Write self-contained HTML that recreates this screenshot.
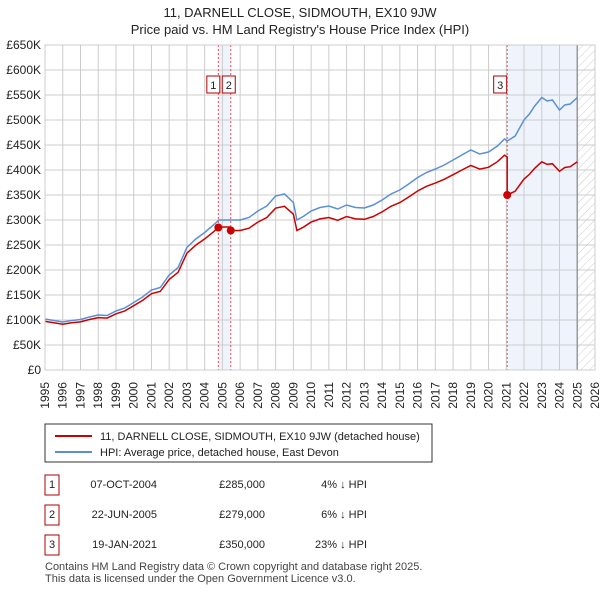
<!DOCTYPE html>
<html><head><meta charset="utf-8"><style>
body{margin:0;background:#fff;font-family:"Liberation Sans",sans-serif;}
svg text{font-family:"Liberation Sans",sans-serif;}
</style></head><body>
<svg id="c" width="600" height="590" xmlns="http://www.w3.org/2000/svg">
<text x="300" y="17" text-anchor="middle" font-size="13" fill="#222">11, DARNELL CLOSE, SIDMOUTH, EX10 9JW</text>
<text x="300" y="34" text-anchor="middle" font-size="13" fill="#222">Price paid vs. HM Land Registry's House Price Index (HPI)</text>
<g id="plot"></g>
<rect x="45" y="424" width="387" height="38" fill="#fff" stroke="#333"/>
<line x1="55" y1="436" x2="92" y2="436" stroke="#cc0000" stroke-width="2"/>
<text x="100" y="440" font-size="11" fill="#222">11, DARNELL CLOSE, SIDMOUTH, EX10 9JW (detached house)</text>
<line x1="55" y1="452" x2="92" y2="452" stroke="#5b8fd4" stroke-width="2"/>
<text x="100" y="456" font-size="11" fill="#222">HPI: Average price, detached house, East Devon</text>
<g id="tbl" font-size="11" fill="#222"></g>
<text x="45" y="570" font-size="11" fill="#444">Contains HM Land Registry data © Crown copyright and database right 2025.</text>
<text x="45" y="582" font-size="11" fill="#444">This data is licensed under the Open Government Licence v3.0.</text>
</svg>
<script>
const hpiYears=[1995,1995.5,1996,1996.5,1997,1997.5,1998,1998.5,1999,1999.5,2000,2000.5,2001,2001.5,2002,2002.5,2003,2003.5,2004,2004.5,2004.8,2005.5,2006,2006.5,2007,2007.5,2008,2008.5,2009,2009.2,2009.6,2010,2010.5,2011,2011.5,2012,2012.5,2013,2013.5,2014,2014.5,2015,2015.5,2016,2016.5,2017,2017.5,2018,2018.5,2019,2019.5,2020,2020.5,2020.9,2021.05,2021.5,2022,2022.3,2022.6,2023,2023.3,2023.6,2024,2024.3,2024.6,2025];
const hpiValues=[102,99,96,99,101,106,110,109,118,124,135,146,160,165,190,205,245,262,275,290,300,300,300,305,318,328,348,352,335,300,308,318,325,328,322,330,325,324,330,340,352,360,372,385,395,402,410,420,430,440,432,436,448,462,458,468,500,512,528,545,538,540,520,530,532,545];
const saleYears=[2004.77,2005.47,2021.05];
const salePrices=[285,279,350];
const saleLabels=["1","2","3"];
const saleDates=["07-OCT-2004","22-JUN-2005","19-JAN-2021"];
const salePriceText=["£285,000","£279,000","£350,000"];
const saleDiffText=["4% ↓ HPI","6% ↓ HPI","23% ↓ HPI"];
const yTicks=[0,50,100,150,200,250,300,350,400,450,500,550,600,650];
const yTickLabels=["£0","£50K","£100K","£150K","£200K","£250K","£300K","£350K","£400K","£450K","£500K","£550K","£600K","£650K"];
const xTicks=[1995,1996,1997,1998,1999,2000,2001,2002,2003,2004,2005,2006,2007,2008,2009,2010,2011,2012,2013,2014,2015,2016,2017,2018,2019,2020,2021,2022,2023,2024,2025,2026];

const NS="http://www.w3.org/2000/svg";
const X0=45,X1=595,Y0=370,Y1=45;
const xs=y=>X0+(y-1995)*(X1-X0)/31;
const ys=v=>Y0-v*(Y0-Y1)/650;
const g=document.getElementById('plot');
function mk(t,a,p){const e=document.createElementNS(NS,t);for(const k in a)e.setAttribute(k,a[k]);(p||g).appendChild(e);return e;}
function hpiAt(t){for(let i=0;i<hpiYears.length-1;i++){if(t>=hpiYears[i]&&t<=hpiYears[i+1]){const f=(t-hpiYears[i])/(hpiYears[i+1]-hpiYears[i]);return hpiValues[i]+f*(hpiValues[i+1]-hpiValues[i]);}}return hpiValues[hpiValues.length-1];}
let r=mk('rect',{x:xs(saleYears[0]),y:Y1,width:xs(saleYears[1])-xs(saleYears[0]),height:Y0-Y1,fill:'#eef3fc'});

r=mk('rect',{x:xs(saleYears[2]),y:Y1,width:xs(2025)-xs(saleYears[2]),height:Y0-Y1,fill:'#eef3fc'});

const defs=mk('defs',{});
const pat=mk('pattern',{id:'hatch',width:6,height:6,patternUnits:'userSpaceOnUse',patternTransform:'rotate(45)'},defs);
mk('line',{x1:0,y1:0,x2:0,y2:6,stroke:'#ccc','stroke-width':1},pat);
r=mk('rect',{x:xs(2025),y:Y1,width:X1-xs(2025),height:Y0-Y1,fill:'url(#hatch)'});

yTicks.forEach((v,i)=>{const l=mk('line',{x1:X0,x2:X1,y1:ys(v),y2:ys(v),stroke:'#ccc'});

const t=mk('text',{x:X0-4,y:ys(v)+4,'text-anchor':'end','font-size':12,fill:'#222'});t.textContent=yTickLabels[i];
});
xTicks.forEach(yr=>{const l=mk('line',{x1:xs(yr),x2:xs(yr),y1:Y1,y2:Y0,stroke:'#ccc'});

const tx=xs(yr)+4,ty=382;
const t=mk('text',{x:tx,y:ty,'text-anchor':'end','font-size':12,fill:'#222',transform:'rotate(-90 '+tx+' '+ty+')'});t.textContent=yr;
});
r=mk('line',{x1:xs(2025),x2:xs(2025),y1:Y1,y2:Y0,stroke:'#999','stroke-width':1.5});

saleYears.forEach((s,i)=>{const l=mk('line',{x1:xs(s),x2:xs(s),y1:Y1,y2:Y0,stroke:'#e05050','stroke-dasharray':'2,2'});
});
let d=hpiYears.map((y,i)=>(i?'L':'M')+xs(y).toFixed(1)+','+ys(hpiValues[i]).toFixed(1)).join('');
r=mk('path',{d:d,fill:'none',stroke:'#5b8fd4','stroke-width':1.5});

const ratios=saleYears.map((s,i)=>salePrices[i]/hpiAt(s));
let pts=[];
hpiYears.forEach((y,i)=>{let k=0;for(let j=0;j<saleYears.length;j++)if(y>=saleYears[j])k=j;
pts.push([y,hpiValues[i]*ratios[k]]);});
saleYears.forEach((s,j)=>{const prev=j?ratios[j-1]:ratios[0];pts.push([s-0.001,hpiAt(s)*prev]);pts.push([s,salePrices[j]]);});
pts.sort((a,b)=>a[0]-b[0]);
d=pts.map((p,i)=>(i?'L':'M')+xs(p[0]).toFixed(1)+','+ys(p[1]).toFixed(1)).join('');
r=mk('path',{d:d,fill:'none',stroke:'#cc0000','stroke-width':1.5});

saleYears.forEach((s,i)=>{const c=mk('circle',{cx:xs(s),cy:ys(salePrices[i]),r:4,fill:'#cc0000'});
});
const lx=[xs(saleYears[0])-5,xs(saleYears[1])-2,xs(saleYears[2])-7];
saleYears.forEach((s,i)=>{const b=mk('rect',{x:lx[i]-6.5,y:76,width:13,height:17,fill:'#fff',stroke:'#b00000'});

const t=mk('text',{x:lx[i],y:89,'text-anchor':'middle','font-size':11,fill:'#222'});t.textContent=saleLabels[i];
});
r=mk('rect',{x:X0,y:Y1,width:X1-X0,height:Y0-Y1,fill:'none',stroke:'#ccc'});

const tb=document.getElementById('tbl');
const rowY=[485,515,545];
saleYears.forEach((s,i)=>{const b=mk('rect',{x:45,y:rowY[i]-10,width:14,height:20,fill:'#fff',stroke:'#b00000'},tb);

const vals=[[saleLabels[i],52,'middle'],[saleDates[i],157,'end'],[salePriceText[i],265,'end'],[saleDiffText[i],367,'end']];
const names=['table-row-number','table-date','table-price','table-hpi-diff'];
vals.forEach((v,k)=>{const t=mk('text',{x:v[1],y:rowY[i]+3,'text-anchor':v[2]},tb);t.textContent=v[0];
});});
</script>
</body></html>
